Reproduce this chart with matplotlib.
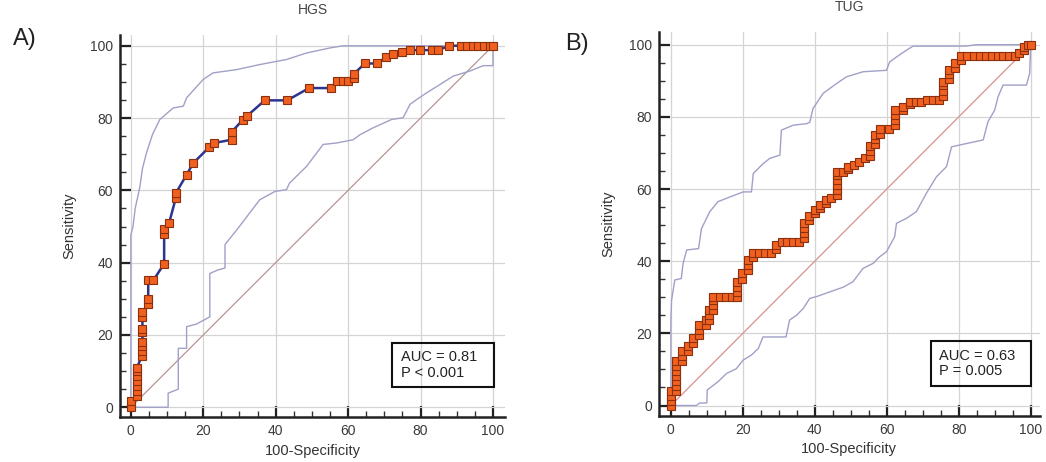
import numpy as np
import matplotlib
matplotlib.use("Agg")
import matplotlib.pyplot as plt
from matplotlib.patches import Rectangle
from matplotlib.ticker import MultipleLocator

plt.rcParams['font.family'] = ['Liberation Sans', 'DejaVu Sans']

# ---- HGS ROC points (100-Specificity, Sensitivity)
hgs_x = [0, 0, 1.6, 1.6, 1.6, 1.6, 1.6, 1.6, 1.6, 3.2, 3.2, 3.2, 3.2, 3.2, 3.2, 3.2, 3.2,
         4.8, 4.8, 4.8, 6.2, 9.2, 9.2, 9.2, 10.6, 12.4, 12.4, 15.4, 17.2, 21.6, 23.0,
         27.8, 27.8, 30.9, 32.1, 37.0, 43.2, 49.2, 55.2, 56.8, 58.5, 60.1, 61.6, 61.6,
         64.6, 67.9, 70.6, 72.5, 74.8, 77.1, 79.8, 83.1, 84.9, 87.9, 91.1, 92.7, 94.4,
         96.0, 97.5, 99.2, 100]
hgs_y = [0, 1.8, 3.1, 4.5, 5.8, 7.2, 8.6, 10.0, 10.9, 14.3, 15.5, 16.9, 18.0, 20.7, 21.7,
         24.9, 26.3, 28.6, 30.0, 35.1, 35.1, 39.7, 48.0, 49.4, 51.1, 57.8, 59.2, 64.3, 67.5,
         71.9, 73.1, 74.0, 76.1, 79.5, 80.6, 84.9, 84.9, 88.3, 88.3, 90.2, 90.2, 90.2, 91.0,
         92.2, 95.1, 95.1, 96.9, 97.6, 98.3, 98.8, 98.8, 98.8, 98.8, 100, 100, 100, 100,
         100, 100, 100, 100]
hgs_up_x = [0, 0, 0.6, 1.2, 2.5, 3.2, 4.3, 6.0, 8.0, 11.7, 14.5, 15.4, 18.0, 20.0, 22.7,
            29.2, 35.6, 43.0, 48.5, 55.0, 58.6, 100]
hgs_up_y = [0, 47.7, 50.0, 55.0, 61.0, 66.0, 70.3, 75.5, 79.6, 82.8, 83.3, 85.6, 88.5,
            90.7, 92.5, 93.4, 94.8, 96.2, 98.0, 99.4, 100, 100]
hgs_lo_x = [0, 10.3, 10.3, 13.1, 13.1, 15.4, 15.4, 18.1, 21.8, 21.8, 24.1, 26.0, 26.0, 29.2,
            35.6, 39.8, 43.0, 43.8, 48.5, 53.1, 56.8, 61.4, 63.3, 66.9, 72.0, 75.2, 77.1,
            78.9, 81.7, 85.4, 89.0, 93.6, 97.3, 100, 100]
hgs_lo_y = [0, 0, 3.9, 5.0, 16.3, 16.3, 22.3, 23.0, 25.0, 37.0, 38.0, 38.5, 45.0, 49.0,
            57.4, 59.7, 60.2, 62.0, 66.6, 72.7, 73.1, 74.0, 75.4, 77.3, 79.6, 80.1, 83.8,
            85.1, 87.0, 89.3, 91.6, 93.0, 94.5, 94.5, 100]

# ---- TUG ROC points
tug_x = [0, 0, 0, 0, 1.4, 1.4, 1.4, 1.4, 1.4, 1.4, 1.4, 3.2, 3.2, 3.2, 4.8, 4.8, 6.2, 6.2,
         7.9, 7.9, 7.9, 9.9, 9.9, 10.6, 10.6, 10.6, 11.8, 11.8, 11.8, 11.8,
         13.6, 15.3, 16.9, 18.4, 18.4, 18.4, 18.4, 19.9, 19.9, 21.3, 21.3, 21.3, 22.9, 22.9,
         24.6, 26.2, 27.8, 29.3, 29.3, 30.8, 32.4, 34.0, 35.5, 36.9, 36.9, 36.9, 36.9,
         38.4, 38.4, 40.0, 40.0, 41.4, 41.4, 43.1, 43.1, 44.6, 46.2, 46.2, 46.2, 46.2, 46.2,
         46.2, 47.8, 49.3, 49.3, 50.8, 52.3, 53.9, 55.3, 55.3, 55.3, 56.7, 56.7, 56.7,
         58.2, 58.2, 60.5, 62.3, 62.3, 62.3, 62.3, 64.5, 64.5, 66.4, 66.4, 68.0, 69.6,
         71.3, 72.9, 74.5, 75.6, 75.6, 75.6, 75.6, 77.3, 77.3, 77.3, 78.9, 78.9, 80.7, 80.7,
         82.4, 84.1, 85.8, 87.5, 89.2, 90.8, 92.4, 94.1, 95.6, 96.8, 98.0, 98.0, 99.3, 100]
tug_y = [0, 1.3, 2.7, 4.1, 4.1, 5.5, 6.9, 8.3, 9.7, 11.0, 12.4, 12.4, 13.8, 15.2, 15.2,
         16.6, 17.2, 18.6, 19.5, 20.9, 22.3, 22.3, 23.7, 23.7, 25.1, 26.4, 26.4, 27.8, 29.2,
         30.1, 30.1, 30.1, 30.1, 30.1, 31.5, 32.9, 34.3, 35.2, 36.6, 37.5, 39.0, 40.3, 41.2,
         42.4, 42.4, 42.4, 42.4, 43.5, 44.4, 45.3, 45.3, 45.3, 45.3, 46.5, 47.9, 49.3, 50.7,
         51.5, 52.6, 53.4, 54.1, 54.8, 55.5, 56.2, 56.9, 57.6, 58.3, 59.7, 61.1, 62.5, 63.9,
         64.8, 64.8, 65.5, 66.2, 66.6, 67.5, 68.5, 69.2, 70.6, 72.0, 72.6, 73.8, 74.9,
         75.2, 76.5, 76.5, 77.7, 79.1, 80.5, 81.9, 81.9, 82.8, 83.5, 84.2, 84.2, 84.2,
         84.6, 84.6, 84.6, 85.9, 87.3, 88.7, 89.7, 90.4, 91.8, 92.9, 93.6, 95.0, 95.7, 97.0,
         97.0, 97.0, 97.0, 97.0, 97.0, 97.0, 97.0, 97.0, 97.0, 97.8, 98.6, 99.3, 100, 100]
tug_up_x = [0, 0, 0.2, 1.1, 2.9, 3.4, 4.4, 7.7, 8.5, 10.8, 13.1, 16.4, 20.1, 22.4, 22.9,
            25.6, 27.5, 30.3, 30.7, 34.0, 37.7, 38.6, 39.5, 42.3, 46.0, 48.8, 53.4, 59.9,
            60.8, 62.7, 65.5, 67.3, 82.0, 84.9, 100]
tug_up_y = [0, 23.7, 29.2, 34.8, 35.2, 39.4, 43.1, 43.5, 49.0, 53.7, 56.5, 57.8, 59.2, 59.2,
            64.3, 67.0, 68.5, 69.4, 76.3, 77.7, 78.1, 78.5, 82.3, 86.5, 89.2, 91.1, 92.5,
            92.9, 95.2, 96.6, 98.5, 99.6, 99.6, 100, 100]
tug_lo_x = [0, 7.1, 8.0, 10.0, 10.1, 13.1, 15.5, 18.2, 20.1, 22.4, 24.3, 25.6, 32.0, 33.0,
            34.9, 36.8, 38.6, 40.5, 44.2, 47.9, 50.6, 53.4, 56.2, 58.0, 59.9, 62.2, 62.7,
            65.5, 68.2, 71.0, 73.8, 76.6, 78.0, 82.1, 86.8, 88.1, 90.0, 90.9, 92.3, 98.8,
            99.7, 100]
tug_lo_y = [0, 0, 0.7, 0.7, 4.3, 6.6, 8.9, 10.2, 12.6, 14.0, 15.8, 19.0, 19.0, 23.7, 25.0,
            26.9, 29.7, 30.2, 31.5, 32.8, 34.3, 38.0, 39.4, 41.2, 42.6, 46.8, 50.5, 51.9,
            53.7, 58.8, 63.4, 66.2, 71.7, 72.6, 73.6, 78.6, 81.9, 85.5, 88.8, 88.8, 92.0, 100]

panels = [
    dict(name="HGS", tag="A)", x=hgs_x, y=hgs_y, ux=hgs_up_x, uy=hgs_up_y, lx=hgs_lo_x,
         ly=hgs_lo_y, auc="AUC = 0.81", p="P < 0.001", ms=6.2, diag="#b89494",
         pos=[0.1147, 0.0974, 0.368, 0.827], xlim=(-3, 103.3), ylim=(-2.7, 103),
         tagpos=(0.012, 0.915)),
    dict(name="TUG", tag="B)", x=tug_x, y=tug_y, ux=tug_up_x, uy=tug_up_y, lx=tug_lo_x,
         ly=tug_lo_y, auc="AUC = 0.63", p="P = 0.005", ms=5.2, diag="#d89090",
         pos=[0.630, 0.0996, 0.364, 0.831], xlim=(-3.3, 102.5), ylim=(-2.9, 103.5),
         tagpos=(0.540, 0.905)),
]

fig = plt.figure(figsize=(10.46, 4.62), dpi=100)

for pn in panels:
    ax = fig.add_axes(pn["pos"])
    ax.set_xlim(*pn["xlim"])
    ax.set_ylim(*pn["ylim"])
    ax.xaxis.set_major_locator(MultipleLocator(20))
    ax.yaxis.set_major_locator(MultipleLocator(20))
    ax.xaxis.set_minor_locator(MultipleLocator(5))
    ax.yaxis.set_minor_locator(MultipleLocator(5))
    ax.grid(True, which="major", color="#d4d4d4", lw=0.9)
    ax.set_axisbelow(True)
    for s in ["top", "right"]:
        ax.spines[s].set_visible(False)
    for s in ["left", "bottom"]:
        ax.spines[s].set_linewidth(1.8)
        ax.spines[s].set_color("#222222")
    ax.tick_params(which="major", direction="in", length=8, width=1.6, color="#222222",
                   labelsize=10, labelcolor="#3a3a3a", pad=5)
    ax.tick_params(which="minor", direction="in", length=4.5, width=1.0, color="#333333")

    ax.plot([0, 100], [0, 100], color=pn["diag"], lw=0.9)
    ax.plot(pn["ux"], pn["uy"], color="#a0a0c8", lw=1.0)
    ax.plot(pn["lx"], pn["ly"], color="#a0a0c8", lw=1.0)
    ax.plot(pn["x"], pn["y"], color="#2b3590", lw=1.8, marker="s", ms=pn["ms"],
            mfc="#f0601e", mec="#8a3010", mew=0.8, zorder=5)

    ax.add_patch(Rectangle((72.2, 5.5), 28.0, 12.3, fill=False, ec="#111111", lw=1.5, zorder=6))
    ax.text(74.6, 11.6, pn["auc"] + "\n" + pn["p"], fontsize=10.5, color="#222222",
            va="center", ha="left", linespacing=1.15, zorder=7)

    ax.set_title(pn["name"], fontsize=10, color="#444444", pad=15)
    ax.set_xlabel("100-Specificity", fontsize=10.5, color="#333333", labelpad=4)
    ax.set_ylabel("Sensitivity", fontsize=10.5, color="#333333", labelpad=10)
    fig.text(pn["tagpos"][0], pn["tagpos"][1], pn["tag"], fontsize=17, color="#222222",
             va="center", ha="left")

fig.savefig("out.png", dpi=100)
